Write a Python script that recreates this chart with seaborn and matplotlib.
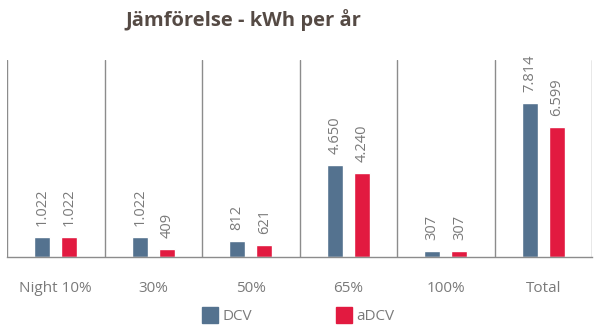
import matplotlib
matplotlib.use("Agg")
import matplotlib.pyplot as plt
import seaborn as sns
import pandas as pd
from matplotlib.lines import Line2D

categories = ["Night 10%", "30%", "50%", "65%", "100%", "Total"]
dcv = [1022, 1022, 812, 4650, 307, 7814]
adcv = [1022, 409, 621, 4240, 307, 6599]
series = ["DCV", "aDCV"]
colors = {"DCV": "#54728f", "aDCV": "#e21a40"}

df = pd.DataFrame({
    "cat": categories * 2,
    "val": dcv + adcv,
    "series": ["DCV"] * len(categories) + ["aDCV"] * len(categories),
})

sns.set_style("white")
plt.rcParams["font.family"] = ["Open Sans", "DejaVu Sans"]

fig = plt.figure(figsize=(6, 3.28), dpi=100)
ax = fig.add_axes([0.0117, 0.2165, 0.975, 0.6005])
sns.barplot(data=df, x="cat", y="val", hue="series", palette=colors,
            width=0.557, gap=0.4, ax=ax, legend=False, saturation=1)

ax.set_ylim(0, 10000)
ax.set_xlim(-0.5, len(categories) - 0.5)
for i in range(len(categories) + 1):
    ax.axvline(i - 0.5, color="#8c8c8c", lw=1.0, zorder=0)
for s in ["top", "left", "right"]:
    ax.spines[s].set_visible(False)
ax.spines["bottom"].set_color("#8c8c8c")
ax.spines["bottom"].set_linewidth(1.0)
ax.set_yticks([])
ax.set_xlabel("")
ax.set_ylabel("")
ax.tick_params(axis="x", length=0, pad=17, labelsize=11, labelcolor="#7a7a7a")

def fmt(v):
    return f"{int(round(v)):,}".replace(",", ".")

for cont in ax.containers:
    ax.bar_label(cont, labels=[fmt(v) for v in cont.datavalues], rotation=90,
                 padding=8, fontsize=10.5, color="#7a7a7a")

fig.text(0.405, 0.94, "Jämförelse - kWh per år", ha="center", va="center",
         fontsize=14.5, fontweight="bold", color="#554a44")

handles = [Line2D([], [], marker="s", linestyle="", markersize=11,
                  markerfacecolor=colors[s], markeredgecolor=colors[s]) for s in series]
fig.legend(handles, series, loc="center", bbox_to_anchor=(0.497, 0.035), ncol=2,
           frameon=False, fontsize=11, labelcolor="#7a7a7a", columnspacing=5.5,
           handletextpad=0.3, handlelength=1.0)

fig.savefig("out.png", dpi=100)
